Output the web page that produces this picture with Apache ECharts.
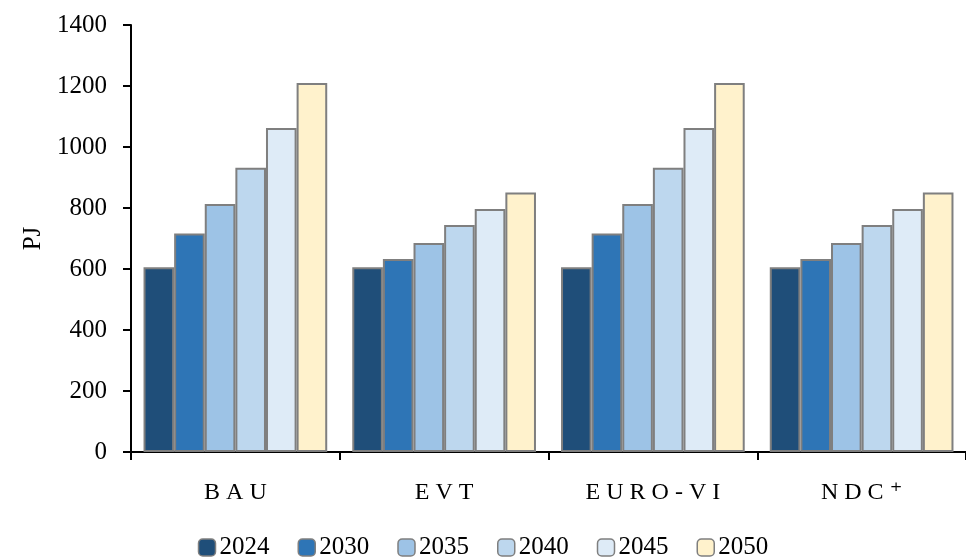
<!DOCTYPE html>
<html>
<head>
<meta charset="utf-8">
<script src="https://cdn.jsdelivr.net/npm/echarts@6/dist/echarts.min.js"></script>
<style>html,body{margin:0;padding:0;background:#fff}#c{width:966px;height:560px}</style>
</head>
<body>
<div id="c"></div>
<script>
const categories = ['BAU', 'EVT', 'EURO-VI', 'NDC⁺'];
const years = ['2024', '2030', '2035', '2040', '2045', '2050'];
const v2024 = [606, 606, 606, 606];
const v2030 = [716, 633, 716, 633];
const v2035 = [813, 685, 813, 685];
const v2040 = [932, 744, 932, 744];
const v2045 = [1062, 797, 1062, 797];
const v2050 = [1210, 851, 1210, 851];
const yTicks = [0, 200, 400, 600, 800, 1000, 1200, 1400];

const values = [v2024, v2030, v2035, v2040, v2045, v2050];
const colors = ['#1F4E79', '#2E75B6', '#9DC3E6', '#BDD7EE', '#DEEBF7', '#FFF2CC'];
const font = '"Liberation Serif", "DejaVu Serif", serif';

const chart = echarts.init(document.getElementById('c'), null, {renderer: 'canvas'});
chart.setOption({
  animation: false,
  backgroundColor: '#fff',
  textStyle: {fontFamily: font, color: '#000'},
  grid: {left: 131, right: 0, top: 25, bottom: 108, containLabel: false},
  legend: {
    bottom: -5,
    left: 'center',
    itemWidth: 17,
    itemHeight: 17,
    itemGap: 28,
    textStyle: {fontFamily: font, fontSize: 25, color: '#000', padding: [0, 0, 0, -1]},
    data: years.map(y => ({name: y, itemStyle: {borderColor: '#7f7f7f', borderWidth: 1.5}}))
  },
  xAxis: {
    type: 'category',
    data: categories,
    axisLine: {lineStyle: {color: '#000', width: 2}},
    axisTick: {show: true, length: 8, lineStyle: {color: '#000', width: 2}},
    axisLabel: {fontFamily: font, fontSize: 24, color: '#000', margin: 29,
      formatter: v => v.split('').join(' ')}
  },
  yAxis: {
    type: 'value',
    min: 0, max: 1400, interval: 200,
    name: 'PJ',
    nameLocation: 'middle',
    nameGap: 84,
    nameTextStyle: {fontFamily: font, fontSize: 25, color: '#000'},
    axisLine: {show: true, lineStyle: {color: '#000', width: 2}},
    axisTick: {show: true, length: 8, lineStyle: {color: '#000', width: 2}},
    axisLabel: {fontFamily: font, fontSize: 25, color: '#000', margin: 24,
      formatter: v => yTicks.includes(v) ? String(v) : ''},
    splitLine: {show: false}
  },
  series: years.map((y, i) => ({
    name: y,
    type: 'bar',
    data: values[i],
    barGap: '0%',
    barCategoryGap: '12%',
    itemStyle: {color: colors[i], borderColor: '#7f7f7f', borderWidth: 2}
  }))
});
</script>
</body>
</html>
